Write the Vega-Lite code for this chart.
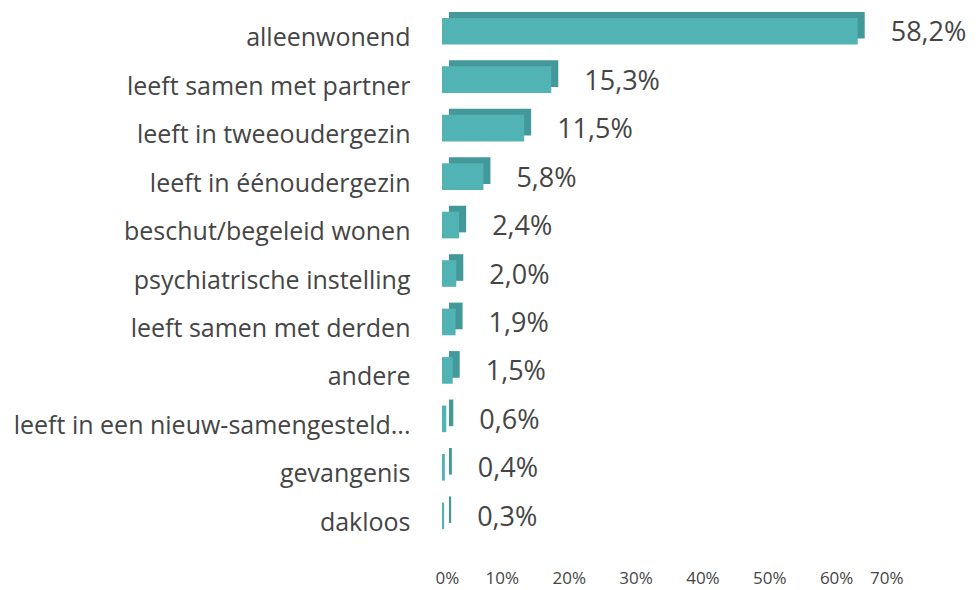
{
  "$schema": "https://vega.github.io/schema/vega-lite/v6.json",
  "autosize": "none",
  "width": 500,
  "height": 533,
  "padding": {"left": 442, "top": 13, "right": 38, "bottom": 44},
  "background": "white",
  "data": {
    "values": [
      {"category": "alleenwonend", "value": 58.2, "label": "58,2%"},
      {"category": "leeft samen met partner", "value": 15.3, "label": "15,3%"},
      {"category": "leeft in tweeoudergezin", "value": 11.5, "label": "11,5%"},
      {"category": "leeft in éénoudergezin", "value": 5.8, "label": "5,8%"},
      {"category": "beschut/begeleid wonen", "value": 2.4, "label": "2,4%"},
      {"category": "psychiatrische instelling", "value": 2.0, "label": "2,0%"},
      {"category": "leeft samen met derden", "value": 1.9, "label": "1,9%"},
      {"category": "andere", "value": 1.5, "label": "1,5%"},
      {"category": "leeft in een nieuw-samengesteld...", "value": 0.6, "label": "0,6%"},
      {"category": "gevangenis", "value": 0.4, "label": "0,4%"},
      {"category": "dakloos", "value": 0.3, "label": "0,3%"}
    ]
  },
  "encoding": {
    "y": {
      "field": "category",
      "type": "nominal",
      "sort": null,
      "scale": {"paddingInner": 0.45, "paddingOuter": 0.225},
      "axis": {
        "title": null,
        "domain": false,
        "ticks": false,
        "labelPadding": 32,
        "labelOffset": 1,
        "labelLimit": 500,
        "labelFont": "Open Sans",
        "labelFontSize": 25,
        "labelFontWeight": "normal",
        "labelColor": "#454545"
      }
    }
  },
  "layer": [
    {
      "mark": {"type": "bar", "color": "#43999a", "xOffset": 7, "yOffset": -12},
      "encoding": {
        "x": {"field": "value", "type": "quantitative", "scale": {"domain": [0, 70], "range": [0, 500]}, "axis": null}
      }
    },
    {
      "mark": {"type": "bar", "color": "#52b3b5", "yOffset": -6},
      "encoding": {
        "x": {"field": "value", "type": "quantitative", "scale": {"domain": [0, 70], "range": [0, 500]}, "axis": null}
      }
    },
    {
      "mark": {"type": "text", "align": "left", "baseline": "middle", "dx": 33, "dy": -4, "font": "Open Sans", "fontSize": 27, "fontWeight": "normal", "color": "#454545"},
      "encoding": {
        "x": {"field": "value", "type": "quantitative", "scale": {"domain": [0, 70], "range": [0, 500]}, "axis": null},
        "text": {"field": "label"}
      }
    },
    {
      "mark": {"type": "rule", "opacity": 0},
      "encoding": {
        "x": {
          "field": "value",
          "type": "quantitative",
          "scale": {"domain": [0, 70], "range": [-7, 461], "nice": false},
          "axis": {
            "orient": "bottom",
            "title": null,
            "domain": false,
            "ticks": false,
            "grid": false,
            "values": [0, 10, 20, 30, 40, 50, 60, 70],
            "labelExpr": "datum.value + '%'",
            "labelPadding": 24,
            "labelFont": "Open Sans",
            "labelFontSize": 17,
            "labelFontWeight": "normal",
            "labelColor": "#454545"
          }
        }
      }
    }
  ],
  "resolve": {"scale": {"x": "independent"}},
  "config": {"view": {"stroke": null}}
}
